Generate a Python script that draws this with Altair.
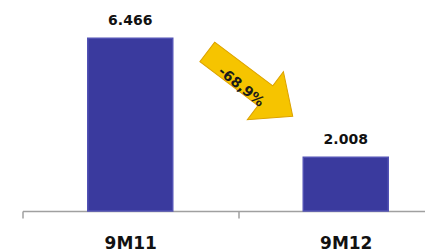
import altair as alt
import pandas as pd

categories = ["9M11", "9M12"]
values = [6.466, 2.008]
value_labels = ["6.466", "2.008"]

change_label = "-68,9%"
arrow_anchor_cat = "9M11"
arrow_anchor_value = 4.75

bars_df = pd.DataFrame({"cat": categories, "v": values, "lbl": value_labels})
arrow_df = pd.DataFrame({"cat": [arrow_anchor_cat], "v": [arrow_anchor_value], "lbl": [change_label]})

FONT = "DejaVu Sans"

# the two category bands run past the right edge of the visible plot
x_scale = alt.Scale(domain=categories, paddingInner=0, paddingOuter=0, range=[0, 431])
y_scale = alt.Scale(domain=[0, 7], nice=False)

x_axis = alt.Axis(
    title=None, labelAngle=0, labelFont=FONT, labelFontSize=17, labelFontWeight="bold",
    labelColor="#111111", labelPadding=17, tickSize=7, tickBand="extent",
    tickColor="#A0A0A0", tickWidth=1.5, domainColor="#A0A0A0", domainWidth=1.5,
)

bars = alt.Chart(bars_df).mark_bar(
    width=85, color="#3A3A9E", stroke="#5252B4", strokeWidth=1.5
).encode(
    x=alt.X("cat:N", scale=x_scale, axis=x_axis, sort=categories),
    y=alt.Y("v:Q", scale=y_scale, axis=None),
)

labels = alt.Chart(bars_df).mark_text(
    font=FONT, fontSize=14, fontWeight="bold", color="#111111",
    baseline="alphabetic", dy=-13
).encode(
    x=alt.X("cat:N", scale=x_scale, sort=categories),
    y=alt.Y("v:Q", scale=y_scale),
    text="lbl:N",
)

arrow_path = "M -1 -0.23 L 0.36 -0.23 L 0.36 -0.56 L 1 0 L 0.36 0.56 L 0.36 0.23 L -1 0.23 Z"

arrow = alt.Chart(arrow_df).mark_point(
    shape=arrow_path, size=11449, angle=37, filled=True,
    fill="#F6C400", stroke="#DCA200", strokeWidth=1, opacity=1, xOffset=12
).encode(
    x=alt.X("cat:N", scale=x_scale, sort=categories, bandPosition=1),
    y=alt.Y("v:Q", scale=y_scale),
)

arrow_text = alt.Chart(arrow_df).mark_text(
    font=FONT, fontSize=14, fontWeight="bold", color="#1a1a1a",
    angle=39, xOffset=3, yOffset=3
).encode(
    x=alt.X("cat:N", scale=x_scale, sort=categories, bandPosition=1),
    y=alt.Y("v:Q", scale=y_scale),
    text="lbl:N",
)

chart = alt.layer(bars, labels, arrow, arrow_text).properties(
    width=402.5, height=187,
    autosize=alt.AutoSizeParams(type="none"),
    padding={"left": 14.5, "top": 16, "right": 0, "bottom": 40},
    background="white",
).configure_view(strokeWidth=0)

chart.save("out.html", embed_options={"renderer": "svg", "actions": False})
